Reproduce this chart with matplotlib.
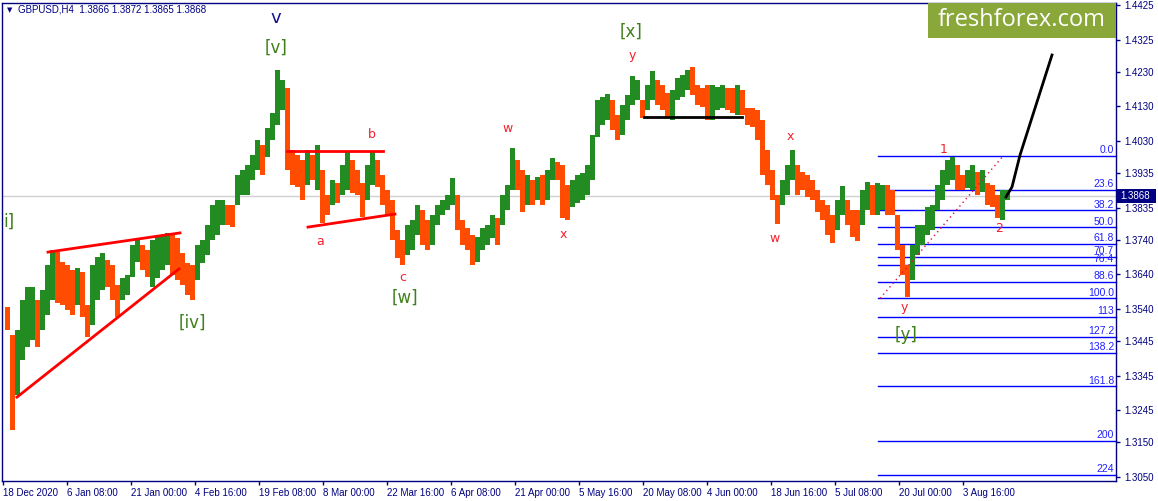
import numpy as np
import matplotlib.pyplot as plt
from matplotlib.patches import Rectangle

# GBPUSD H4 -- high / low of every 5 bars
bar_hi = [1.3545, 1.3463, 1.3478, 1.3565, 1.3603, 1.3603, 1.3565, 1.3595, 1.3668, 1.3711,
          1.3705, 1.3676, 1.3668, 1.3653, 1.3659, 1.3647, 1.3551, 1.3668, 1.3691, 1.3702,
          1.3682, 1.3668, 1.3609, 1.3630, 1.3638, 1.3726, 1.3746, 1.3726, 1.3711, 1.3740,
          1.3749, 1.3755, 1.3761, 1.3761, 1.3746, 1.3702, 1.3673, 1.3668, 1.3726, 1.3740,
          1.3784, 1.3843, 1.3857, 1.3857, 1.3843, 1.3843, 1.3930, 1.3945, 1.3959, 1.3988,
          1.4032, 1.4017, 1.4067, 1.4111, 1.4236, 1.4207, 1.4184, 1.4003, 1.3988, 1.3974,
          1.4003, 1.3988, 1.4017, 1.3945, 1.3872, 1.3915, 1.3907, 1.3959, 1.3997, 1.3974,
          1.3945, 1.3907, 1.3959, 1.3997, 1.3974, 1.3930, 1.3886, 1.3857, 1.3770, 1.3740,
          1.3784, 1.3799, 1.3843, 1.3828, 1.3799, 1.3813, 1.3843, 1.3857, 1.3872, 1.3921,
          1.3872, 1.3799, 1.3775, 1.3755, 1.3749, 1.3775, 1.3784, 1.3813, 1.3805, 1.3872,
          1.3901, 1.4009, 1.3974, 1.3945, 1.3930, 1.3915, 1.3924, 1.3930, 1.3945, 1.3980,
          1.3968, 1.3959, 1.3901, 1.3915, 1.3930, 1.3936, 1.3959, 1.4047, 1.4149, 1.4158,
          1.4166, 1.4149, 1.4105, 1.4134, 1.4163, 1.4219, 1.4207, 1.4149, 1.4193, 1.4233,
          1.4207, 1.4193, 1.4169, 1.4178, 1.4213, 1.4222, 1.4236, 1.4245, 1.4193, 1.4184,
          1.4193, 1.4193, 1.4187, 1.4193, 1.4184, 1.4184, 1.4193, 1.4178, 1.4126, 1.4126,
          1.4120, 1.4090, 1.4003, 1.3945, 1.3872, 1.3915, 1.3959, 1.4003, 1.3959, 1.3939,
          1.3930, 1.3915, 1.3886, 1.3857, 1.3843, 1.3813, 1.3857, 1.3898, 1.3857, 1.3828,
          1.3828, 1.3886, 1.3910, 1.3901, 1.3907, 1.3901, 1.3901, 1.3886, 1.3813, 1.3726,
          1.3668, 1.3726, 1.3784, 1.3784, 1.3837, 1.3843, 1.3901, 1.3945, 1.3974, 1.3983,
          1.3959, 1.3930, 1.3945, 1.3959, 1.3939, 1.3945, 1.3907, 1.3901, 1.3872, 1.3886,
          1.3886]
bar_lo = [1.3478, 1.3186, 1.3288, 1.3390, 1.3428, 1.3449, 1.3428, 1.3478, 1.3522, 1.3565,
          1.3557, 1.3551, 1.3536, 1.3522, 1.3551, 1.3516, 1.3457, 1.3492, 1.3565, 1.3595,
          1.3603, 1.3565, 1.3516, 1.3565, 1.3580, 1.3632, 1.3676, 1.3653, 1.3632, 1.3603,
          1.3630, 1.3653, 1.3668, 1.3638, 1.3624, 1.3609, 1.3580, 1.3565, 1.3624, 1.3673,
          1.3697, 1.3740, 1.3755, 1.3784, 1.3784, 1.3778, 1.3843, 1.3872, 1.3872, 1.3915,
          1.3945, 1.3930, 1.3983, 1.4032, 1.4076, 1.4120, 1.3945, 1.3901, 1.3895, 1.3857,
          1.3901, 1.3915, 1.3886, 1.3790, 1.3813, 1.3843, 1.3848, 1.3872, 1.3886, 1.3877,
          1.3872, 1.3807, 1.3857, 1.3901, 1.3895, 1.3843, 1.3813, 1.3740, 1.3688, 1.3668,
          1.3697, 1.3711, 1.3755, 1.3726, 1.3711, 1.3726, 1.3784, 1.3813, 1.3828, 1.3843,
          1.3770, 1.3726, 1.3711, 1.3668, 1.3676, 1.3711, 1.3726, 1.3746, 1.3726, 1.3784,
          1.3828, 1.3886, 1.3886, 1.3822, 1.3843, 1.3843, 1.3857, 1.3843, 1.3857, 1.3915,
          1.3915, 1.3805, 1.3799, 1.3837, 1.3848, 1.3857, 1.3872, 1.3915, 1.4041, 1.4076,
          1.4090, 1.4061, 1.4032, 1.4047, 1.4090, 1.4134, 1.4149, 1.4096, 1.4120, 1.4149,
          1.4134, 1.4120, 1.4096, 1.4090, 1.4149, 1.4158, 1.4178, 1.4163, 1.4134, 1.4128,
          1.4090, 1.4090, 1.4120, 1.4126, 1.4120, 1.4111, 1.4105, 1.4105, 1.4076, 1.4070,
          1.4032, 1.3930, 1.3901, 1.3857, 1.3787, 1.3843, 1.3872, 1.3915, 1.3872, 1.3886,
          1.3866, 1.3857, 1.3822, 1.3799, 1.3755, 1.3732, 1.3770, 1.3813, 1.3784, 1.3749,
          1.3737, 1.3784, 1.3828, 1.3813, 1.3813, 1.3828, 1.3813, 1.3813, 1.3711, 1.3638,
          1.3574, 1.3624, 1.3697, 1.3726, 1.3755, 1.3770, 1.3828, 1.3857, 1.3901, 1.3915,
          1.3886, 1.3886, 1.3892, 1.3886, 1.3872, 1.3880, 1.3843, 1.3837, 1.3805, 1.3799,
          1.3857]
first_bar = 5
bars_per_col = 5
last_price = 1.3868

price_ticks = [1.4425, 1.4325, 1.4230, 1.4130, 1.4030, 1.3935, 1.3835, 1.3740,
               1.3640, 1.3540, 1.3445, 1.3345, 1.3245, 1.3150, 1.3050]
time_ticks = [3, 67, 131, 195, 259, 323, 387, 451, 515, 579, 643, 707, 771, 835, 899, 963]
time_labels = ['18 Dec 2020', '6 Jan 08:00', '21 Jan 00:00', '4 Feb 16:00', '19 Feb 08:00',
               '8 Mar 00:00', '22 Mar 16:00', '6 Apr 08:00', '21 Apr 00:00', '5 May 16:00',
               '20 May 08:00', '4 Jun 00:00', '18 Jun 16:00', '5 Jul 08:00', '20 Jul 00:00',
               '3 Aug 16:00']

fib_levels = [0.0, 23.6, 38.2, 50.0, 61.8, 70.7, 76.4, 88.6, 100.0, 113, 127.2, 138.2, 161.8, 200, 224]
fib_names = ['0.0', '23.6', '38.2', '50.0', '61.8', '70.7', '76.4', '88.6', '100.0',
             '113', '127.2', '138.2', '161.8', '200', '224']
fib_top = 1.3985
fib_bottom = 1.3570
fib_start = 878

# wave counts: (text, bar, price)
green_marks = [('[v]', 276, 1.4302), ('[iv]', 192, 1.3498), ('[w]', 405, 1.3571),
               ('[x]', 631, 1.4347), ('[y]', 906, 1.3463)]
red_marks = [('b', 372, 1.4047), ('a', 320, 1.3737), ('c', 403, 1.3632), ('w', 508, 1.4067),
             ('x', 563, 1.3755), ('y', 632, 1.4280), ('x', 790, 1.4041), ('w', 775, 1.3746),
             ('1', 944, 1.4003), ('2', 999, 1.3775), ('y', 904, 1.3542)]

# trend lines drawn on the chart: (bar0, price0, bar1, price1)
red_lines = [(48, 1.3705, 180, 1.3761), (17, 1.3282, 179, 1.3656),
             (287, 1.4000, 383, 1.4000), (308, 1.3778, 395, 1.3816)]
black_flat = (644, 742, 1.4099)
forecast_x = [1006, 1012, 1020, 1052]
forecast_y = [1.3866, 1.3895, 1.3988, 1.4280]

W, H = 1158, 501
navy = '#000080'
up_col = '#228b22'
dn_col = '#ff4c00'
wave_red = '#f4202e'
wave_green = '#3f7f1a'

fig = plt.figure(figsize=(W / 100, H / 100), dpi=100)
ax = fig.add_axes([2 / W, 20 / H, 1114 / W, 478 / H])
ax.set_xlim(2, 1116)
ax.set_ylim(1.30373, 1.44317)

hi = np.array(bar_hi)
lo = np.array(bar_lo)
xs = first_bar + bars_per_col * np.arange(len(hi)) + bars_per_col / 2
mid = (hi + lo) / 2
cols = [dn_col if i == 0 or mid[i] < mid[i - 1] else up_col for i in range(len(mid))]
ax.bar(xs, hi - lo, bottom=lo, width=bars_per_col, color=cols, linewidth=0, zorder=3)

# bid line
ax.axhline(last_price, color='#d0d0d0', lw=1, zorder=1)

for x0, y0, x1, y1 in red_lines:
    ax.plot([x0, x1], [y0, y1], color='#ff0000', lw=2, zorder=4)
ax.plot(black_flat[:2], [black_flat[2]] * 2, color='black', lw=2, zorder=4)
ax.plot(forecast_x, forecast_y, color='black', lw=2, zorder=4)

# fibonacci grid
for lev, name in zip(fib_levels, fib_names):
    p = fib_top - lev / 100 * (fib_top - fib_bottom)
    ax.plot([fib_start, 1116], [p, p], color='#0000ff', lw=1, zorder=2, clip_on=False)
    ax.text(1114, p + 0.0002, name, color='#2020ff', fontsize=7.5, ha='right', va='bottom',
            family='Liberation Sans', zorder=5)
ax.plot([fib_start + 2, 1003], [fib_bottom, fib_top], color='#e0103a', lw=1,
        ls=(0, (1, 2.5)), zorder=4)

for txt, x, y in green_marks:
    ax.text(x, y, txt, color=wave_green, fontsize=12, ha='center', va='center', zorder=6)
# only the tail of the [i] mark is inside the chart
ax.text(3, 1.3793, 'i]', color=wave_green, fontsize=12, ha='left', va='center', zorder=6)
ax.text(276, 1.4389, 'v', color='#14148c', fontsize=13, ha='center', va='center', zorder=6)
for txt, x, y in red_marks:
    ax.text(x, y, txt, color=wave_red, fontsize=9, ha='center', va='center', zorder=6)

for s in ax.spines.values():
    s.set_color(navy)
    s.set_linewidth(1)
ax.yaxis.tick_right()
ax.set_yticks(price_ticks)
ax.set_yticklabels(['%.4f' % t for t in price_ticks], family='Liberation Sans')
ax.set_xticks(time_ticks)
ax.set_xticklabels(time_labels, ha='left', family='Liberation Sans')
ax.tick_params(axis='both', colors=navy, labelcolor=navy, labelsize=7, length=3, width=1)
ax.tick_params(axis='y', pad=3)
ax.tick_params(axis='x', pad=2)

# header
fig.text(7 / W, 1 - 10 / H, '\u25bc', fontsize=5, color=navy, va='center')
fig.text(18 / W, 1 - 10 / H, 'GBPUSD,H4  1.3866 1.3872 1.3865 1.3868', fontsize=7,
         color=navy, va='center', family='Liberation Sans')

# logo
fig.patches.append(Rectangle((928 / W, 1 - 38 / H), 188 / W, 35 / H, transform=fig.transFigure,
                             facecolor='#8aa83a', edgecolor='none', zorder=10))
fig.text(1022 / W, 1 - 20 / H, 'freshforex.com', fontsize=17, color='white', ha='center',
         va='center', family='Open Sans', zorder=11)

# current price tag
fig.patches.append(Rectangle((1117 / W, 1 - 203 / H), 39 / W, 14 / H, transform=fig.transFigure,
                             facecolor=navy, edgecolor='none', zorder=10))
fig.text(1120 / W, 1 - 196 / H, '1.3868', fontsize=7, color='white', va='center',
         family='Liberation Sans', zorder=11)

fig.savefig('out.png', dpi=100)
